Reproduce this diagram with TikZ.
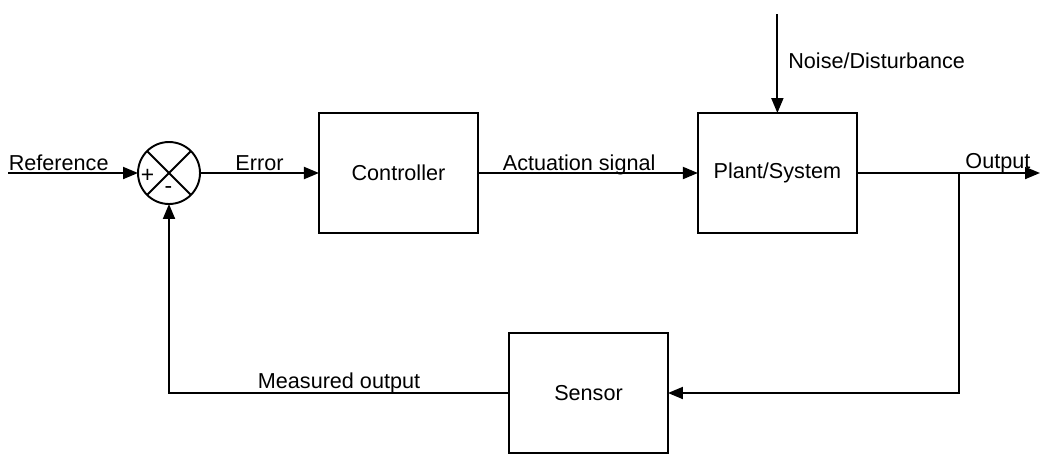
\documentclass[tikz,border=0pt]{standalone}
\usepackage{fontspec}
\setmainfont{Liberation Sans}
\usepackage{tikz}
\usetikzlibrary{arrows.meta,positioning,calc}

\begin{document}
\begin{tikzpicture}[
  x=0.02cm, y=-0.02cm,
  block/.style={draw, line width=1.1pt, rectangle, outer sep=0pt, minimum width=3.18cm, minimum height=2.4cm, align=center, font=\fontsize{12.3}{14}\selectfont},
  sumnode/.style={draw, line width=1.1pt, circle, outer sep=0pt, minimum size=1.24cm, inner sep=0pt},
  arr/.style={-{Triangle[length=0.3cm, width=0.24cm]}, line width=1.1pt},
  lbl/.style={font=\fontsize{12.3}{14}\selectfont, inner sep=0pt, anchor=base},
  node distance=2.38cm
]
\useasboundingbox (0,0) rectangle (1041,460);

% summing junction and forward blocks
\node[sumnode] (sum) at (169,173) {};
\node[block, right=2.38cm of sum] (ctrl) {Controller};
\node[block, right=4.4cm of ctrl] (plant) {Plant/System};
\node[block] (sensor) at (588.5,393) {Sensor};

% cross and signs in the junction
\draw[line width=1.1pt] (sum.north east) -- (sum.south west);
\draw[line width=1.1pt] (sum.north west) -- (sum.south east);
\node[font=\fontsize{13}{15}\selectfont, inner sep=0pt] (plus) at (147.5,176) {+};
\node[font=\fontsize{13}{15}\selectfont, inner sep=0pt] (minus) at (168.5,190) {-};

% free ends
\coordinate (refin) at (8,173);
\coordinate (noise) at (plant.north |- 0,14);
\coordinate (out) at (1040,173);
\coordinate (tap) at (959,173);

% forward path
\draw[arr] (refin) -- node[lbl, pos=0.39, yshift=0.06cm] {Reference} (sum.west);
\draw[arr] (sum.east) -- node[lbl, pos=0.5, yshift=0.06cm] {Error} (ctrl.west);
\draw[arr] (ctrl.east) -- node[lbl, pos=0.46, yshift=0.06cm] {Actuation signal} (plant.west);
\draw[arr] (plant.east) -- node[lbl, pos=0.77, yshift=0.1cm] {Output} (out);
\draw[arr] (noise) -- node[lbl, anchor=west, pos=0.47, xshift=0.2cm] {Noise/Disturbance} (plant.north);

% feedback path
\draw[arr] (tap) |- (sensor.east);
\draw[arr] (sensor.west) -| node[lbl, pos=0.25, yshift=0.1cm] {Measured output} (sum.south);

\end{tikzpicture}
\end{document}
